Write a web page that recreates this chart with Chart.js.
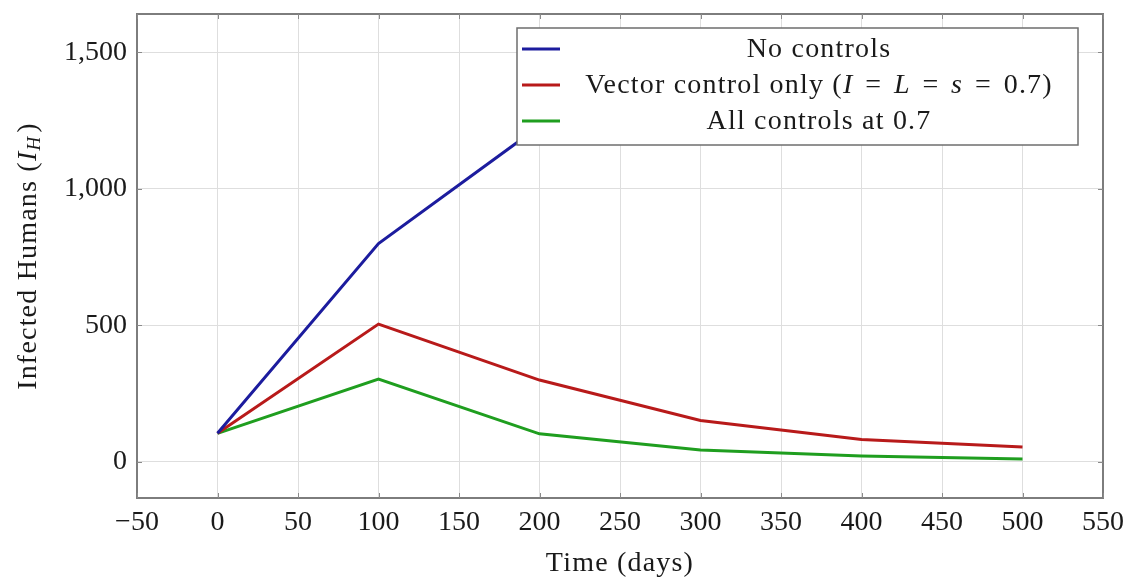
<!DOCTYPE html>
<html>
<head>
<meta charset="utf-8">
<script src="https://cdn.jsdelivr.net/npm/chart.js@4/dist/chart.umd.min.js"></script>
<style>
  html, body { margin: 0; padding: 0; background: #fff; }
  #wrap { width: 1128px; height: 578px; }
</style>
</head>
<body>
<div id="wrap"><canvas id="chart" width="1128" height="578"></canvas></div>
<script>
// ----- DATOS -----
const timeDays = [0, 100, 200, 300, 400, 500];
const noControls = [105, 800, 1230, 1400, 1470, 1495];
const vectorOnly = [105, 505, 300, 152, 82, 55];
const allControls = [105, 304, 103, 44, 22, 11];
const xTickValues = [-50, 0, 50, 100, 150, 200, 250, 300, 350, 400, 450, 500, 550];
const yTickValues = [0, 500, 1000, 1500];
const seriesNames = ['No controls', 'Vector control only (I = L = s = 0.7)', 'All controls at 0.7'];

// texto del eje y con subíndice y leyenda con cursivas matemáticas
const FONT = '"Liberation Serif", "Times New Roman", serif';
const textColor = '#1a1a1a';
const colors = ['#1c1c9e', '#b81a1a', '#1f9e1f'];
const SPACING = '1.2px';

function toPoints(values) {
    return timeDays.map((t, i) => ({ x: t, y: values[i] }));
}

// Dibuja texto con tramos en cursiva ("I", "L", "s" van en cursiva)
function runsFor(label) {
    const runs = [];
    const m = label.match(/^(.*\()(.*)(\))$/);
    if (!m) return [[label, false]];
    runs.push([m[1], false]);
    m[2].split(' = ').forEach((part, i, arr) => {
        runs.push([part, /^[A-Za-z]$/.test(part)]);
        if (i < arr.length - 1) runs.push([' \u200a=\u200a ', false]);
    });
    runs.push([m[3], false]);
    return runs;
}

function measureRuns(ctx, runs, size) {
    let w = 0;
    runs.forEach(([t, it]) => {
        ctx.font = (it ? 'italic ' : '') + size + 'px ' + FONT;
        w += ctx.measureText(t).width;
    });
    return w;
}

function drawRuns(ctx, runs, x, y, size) {
    runs.forEach(([t, it]) => {
        ctx.font = (it ? 'italic ' : '') + size + 'px ' + FONT;
        ctx.fillText(t, x, y);
        x += ctx.measureText(t).width;
    });
}

const framePlugin = {
    id: 'frame',
    afterDraw(chart) {
        const ctx = chart.ctx;
        const a = chart.chartArea;
        ctx.save();

        // marco del eje
        ctx.strokeStyle = '#7d7d7d';
        ctx.lineWidth = 2;
        ctx.strokeRect(a.left, a.top, a.right - a.left, a.bottom - a.top);

        // marcas de las ticks (interiores)
        ctx.lineWidth = 1;
        ctx.strokeStyle = '#8a8a8a';
        const xs = chart.scales.x, ys = chart.scales.y;
        xTickValues.forEach(v => {
            const px = Math.round(xs.getPixelForValue(v)) + 0.5;
            ctx.beginPath();
            ctx.moveTo(px, a.bottom); ctx.lineTo(px, a.bottom - 5);
            ctx.moveTo(px, a.top); ctx.lineTo(px, a.top + 5);
            ctx.stroke();
        });
        yTickValues.forEach(v => {
            const py = Math.round(ys.getPixelForValue(v)) + 0.5;
            ctx.beginPath();
            ctx.moveTo(a.left, py); ctx.lineTo(a.left + 5, py);
            ctx.moveTo(a.right, py); ctx.lineTo(a.right - 5, py);
            ctx.stroke();
        });

        // leyenda
        const lx = a.left + 380, ly = a.top + 14, lw = 561, lh = 117;
        ctx.fillStyle = '#fff';
        ctx.fillRect(lx, ly, lw, lh);
        ctx.strokeStyle = '#6e6e6e';
        ctx.lineWidth = 1.5;
        ctx.strokeRect(lx, ly, lw, lh);
        const size = 28;
        const textCenter = lx + 302;
        ctx.letterSpacing = SPACING;
        chart.data.datasets.forEach((ds, i) => {
            const cy = ly + 21 + i * 36;
            ctx.strokeStyle = ds.borderColor;
            ctx.lineWidth = 3;
            ctx.beginPath();
            ctx.moveTo(lx + 5, cy); ctx.lineTo(lx + 43, cy);
            ctx.stroke();
            const runs = runsFor(ds.label);
            const w = measureRuns(ctx, runs, size);
            ctx.fillStyle = textColor;
            ctx.textBaseline = 'middle';
            ctx.textAlign = 'left';
            drawRuns(ctx, runs, textCenter - w / 2, cy + 1, size);
        });

        // títulos de los ejes
        ctx.fillStyle = textColor;
        ctx.textBaseline = 'middle';
        ctx.textAlign = 'center';
        ctx.font = '28px ' + FONT;
        ctx.fillText('Time (days)', (a.left + a.right) / 2, 564);

        ctx.translate(29, (a.top + a.bottom) / 2);
        ctx.rotate(-Math.PI / 2);
        const base = 'Infected Humans (';
        ctx.font = '28px ' + FONT;
        const w1 = ctx.measureText(base).width;
        ctx.font = 'italic 28px ' + FONT;
        const w2 = ctx.measureText('I').width;
        ctx.font = 'italic 19px ' + FONT;
        const w3 = ctx.measureText('H').width;
        ctx.font = '28px ' + FONT;
        const w4 = ctx.measureText(')').width;
        let x = -(w1 + w2 + w3 + 3 + w4) / 2;
        ctx.textAlign = 'left';
        ctx.fillText(base, x, 0); x += w1;
        ctx.font = 'italic 28px ' + FONT;
        ctx.fillText('I', x, 0); x += w2;
        ctx.font = 'italic 19px ' + FONT;
        ctx.fillText('H', x, 6); x += w3 + 3;
        ctx.font = '28px ' + FONT;
        ctx.fillText(')', x, 0);

        ctx.restore();
    }
};

const datasets = [noControls, vectorOnly, allControls].map((values, i) => ({
    label: seriesNames[i],
    data: toPoints(values),
    borderColor: colors[i],
    backgroundColor: colors[i],
    borderWidth: 3,
    pointRadius: 0,
    tension: 0,
    fill: false
}));

new Chart(document.getElementById('chart'), {
    type: 'line',
    data: { datasets: datasets },
    options: {
        responsive: false,
        animation: false,
        layout: { padding: { top: 14, right: 25, left: 0, bottom: 0 } },
        plugins: {
            legend: { display: false },
            tooltip: { enabled: false }
        },
        scales: {
            x: {
                type: 'linear',
                min: -50,
                max: 550,
                afterBuildTicks: scale => { scale.ticks = xTickValues.map(v => ({ value: v })); },
                afterFit: scale => {
                    scale.height = 80;
                    scale.paddingLeft = 0;
                    scale.paddingRight = 0;
                },
                grid: { color: '#dedede', lineWidth: 1, drawTicks: false },
                border: { display: false },
                ticks: {
                    color: textColor,
                    padding: 8,
                    maxRotation: 0,
                    autoSkip: false,
                    font: { family: FONT, size: 28 },
                    callback: v => String(v).replace('-', '\u2212')
                }
            },
            y: {
                type: 'linear',
                min: -132,
                max: 1641,
                afterBuildTicks: scale => { scale.ticks = yTickValues.map(v => ({ value: v })); },
                afterFit: scale => {
                    scale.width = 137;
                    scale.paddingTop = 0;
                    scale.paddingBottom = 0;
                },
                grid: { color: '#dedede', lineWidth: 1, drawTicks: false },
                border: { display: false },
                ticks: {
                    color: textColor,
                    padding: 10,
                    autoSkip: false,
                    font: { family: FONT, size: 28 },
                    callback: v => v.toLocaleString('en-US')
                }
            }
        }
    },
    plugins: [framePlugin]
});
</script>
</body>
</html>
